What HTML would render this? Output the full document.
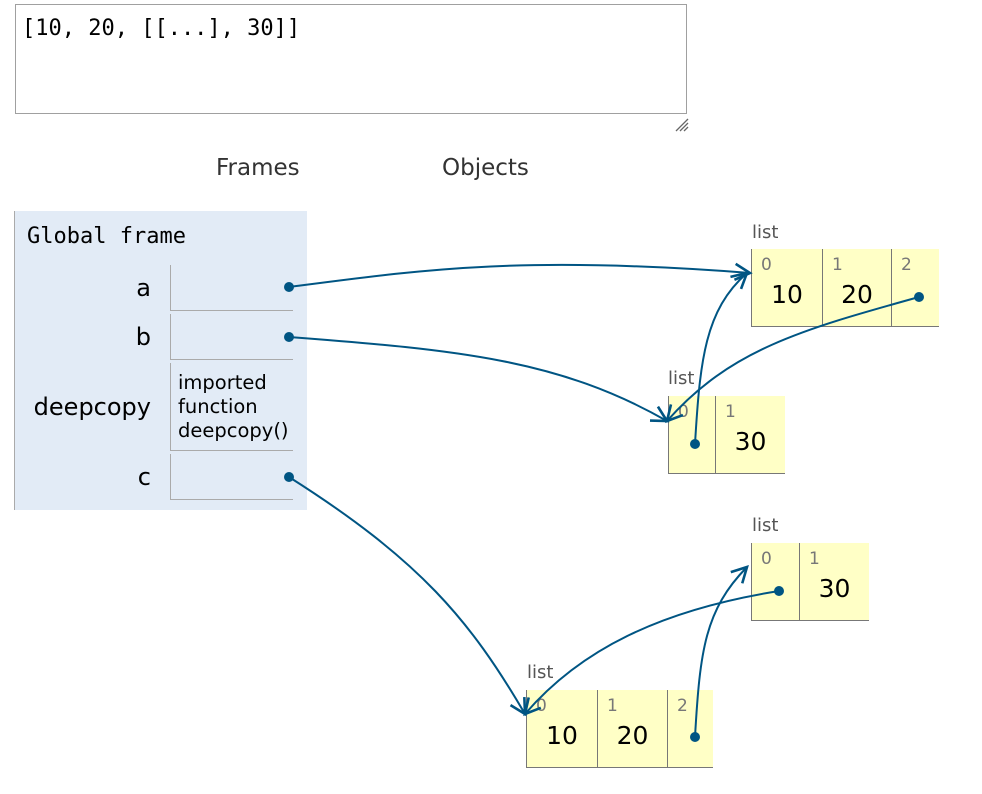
<!DOCTYPE html>
<html><head><meta charset="utf-8"><style>
body{margin:0;width:982px;height:794px;background:#fff;position:relative;overflow:hidden;font-family:"DejaVu Sans","Liberation Sans",sans-serif}
.a{position:absolute}
.ta{left:15px;top:4px;width:670px;height:108px;border:1px solid #a0a0a0;font-family:"DejaVu Sans Mono","Liberation Mono",monospace;font-size:22px;color:#000}
.hd{font-size:23px;color:#333}
.frame{left:14px;top:211px;width:292px;height:299px;background:#e2ebf6;border-left:1px solid #aaa}
.vc{left:170px;width:122px;border-left:1px solid #aaa;border-bottom:1px solid #aaa}
.lbl{width:140px;text-align:right;font-size:24px;color:#000}
.ll{font-size:18px;color:#555}
.cell{background:#ffffc6;border-left:1px solid #777;border-bottom:1px solid #777;box-sizing:border-box;height:78px}
.idx{position:absolute;left:9px;top:6px;font-size:17px;color:#777}
.val{position:absolute;left:0;right:0;top:31px;text-align:center;font-size:25px;color:#000}
</style></head><body>
<div class="a ta"><div style="position:absolute;left:6px;top:11px">[10, 20, [[...], 30]]</div></div>
<svg class="a" style="left:674px;top:117px" width="16" height="16"><g stroke="#666" stroke-width="1.3"><line x1="2" y1="14" x2="14" y2="2"/><line x1="6" y1="14" x2="14" y2="6"/><line x1="10" y1="14" x2="14" y2="10"/></g></svg>
<div class="a hd" style="left:216px;top:155px">Frames</div>
<div class="a hd" style="left:442px;top:155px">Objects</div>
<div class="a frame"></div>
<div class="a" style="left:27px;top:224px;font-family:'DejaVu Sans Mono','Liberation Mono',monospace;font-size:22px">Global frame</div>
<div class="a vc" style="top:265px;height:45px"></div>
<div class="a vc" style="top:314px;height:45px"></div>
<div class="a vc" style="top:363px;height:87px"></div>
<div class="a vc" style="top:454px;height:45px"></div>
<div class="a lbl" style="left:11px;top:274px">a</div>
<div class="a lbl" style="left:11px;top:323px">b</div>
<div class="a lbl" style="left:11px;top:393px">deepcopy</div>
<div class="a lbl" style="left:11px;top:463px">c</div>
<div class="a" style="left:178px;top:371px;font-size:19.5px;line-height:24px">imported<br>function<br>deepcopy()</div>

<div class="a ll" style="left:752px;top:222px">list</div>
<div class="a cell" style="left:751px;top:249px;width:71px"><span class="idx">0</span><span class="val">10</span></div>
<div class="a cell" style="left:822px;top:249px;width:69px"><span class="idx">1</span><span class="val">20</span></div>
<div class="a cell" style="left:891px;top:249px;width:48px"><span class="idx">2</span></div>

<div class="a ll" style="left:668px;top:368px">list</div>
<div class="a cell" style="left:668px;top:396px;width:47px"><span class="idx">0</span></div>
<div class="a cell" style="left:715px;top:396px;width:70px"><span class="idx">1</span><span class="val">30</span></div>

<div class="a ll" style="left:752px;top:515px">list</div>
<div class="a cell" style="left:751px;top:543px;width:48px"><span class="idx">0</span></div>
<div class="a cell" style="left:799px;top:543px;width:70px"><span class="idx">1</span><span class="val">30</span></div>

<div class="a ll" style="left:527px;top:662px">list</div>
<div class="a cell" style="left:526px;top:690px;width:71px"><span class="idx">0</span><span class="val">10</span></div>
<div class="a cell" style="left:597px;top:690px;width:70px"><span class="idx">1</span><span class="val">20</span></div>
<div class="a cell" style="left:667px;top:690px;width:46px"><span class="idx">2</span></div>

<svg class="a" style="left:0;top:0" width="982" height="794">
<defs><marker id="m" markerWidth="20" markerHeight="20" refX="17" refY="10" orient="auto" markerUnits="userSpaceOnUse"><path d="M2,2 L17,10 L2,18" fill="none" stroke="#005583" stroke-width="2.6"/></marker></defs>
<g fill="none" stroke="#005583" stroke-width="2" marker-end="url(#m)">
<path d="M289,287 C420,270 520,255 750,273"/>
<path d="M289,337 C460,350 560,360 667,421"/>
<path d="M919,297 C800,330 730,350 667,421"/>
<path d="M695,444 C700,360 705,310 747,273"/>
<path d="M289,477 C420,560 470,620 525,714"/>
<path d="M779,591 C660,610 580,650 525,714"/>
<path d="M695,737 C700,650 705,610 747,567"/>
</g>
<g fill="#005583"><circle cx="289" cy="287" r="5"/><circle cx="289" cy="337" r="5"/><circle cx="289" cy="477" r="5"/><circle cx="919" cy="297" r="5"/><circle cx="695" cy="444" r="5"/><circle cx="779" cy="591" r="5"/><circle cx="695" cy="737" r="5"/></g>
</svg>
</body></html>
